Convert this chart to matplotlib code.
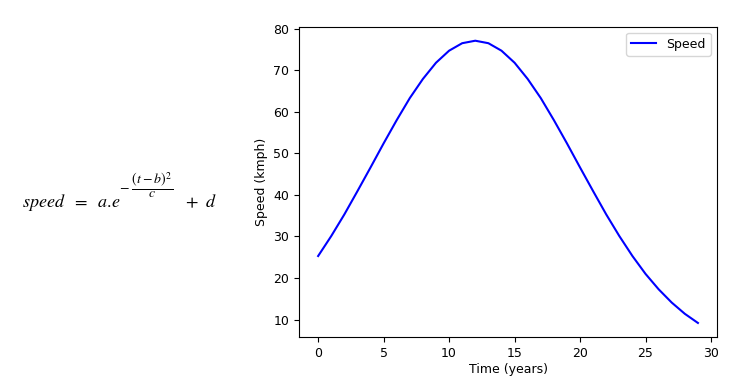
import matplotlib
matplotlib.use("Agg")
import matplotlib.pyplot as plt

# Data
time_years = list(range(30))
speed_kmph = [25.3, 30.1, 35.3, 40.9, 46.6, 52.4, 58.0, 63.3, 67.9, 71.8,
              74.7, 76.5, 77.1, 76.5, 74.7, 71.8, 67.9, 63.3, 58.0, 52.4,
              46.6, 40.9, 35.3, 30.1, 25.3, 21.0, 17.3, 14.1, 11.4, 9.2]

plt.rcParams['mathtext.fontset'] = 'stix'

fig = plt.figure(figsize=(7.46, 3.80), dpi=100)
ax = fig.add_axes([0.401, 0.113, 0.560, 0.817])

ax.plot(time_years, speed_kmph, color='blue', linewidth=1.5, label='Speed')
ax.set_xlabel('Time (years)', fontsize=9, labelpad=2)
ax.set_ylabel('Speed (kmph)', fontsize=9, labelpad=4)
ax.tick_params(labelsize=9)
ax.legend(loc='upper right', fontsize=9)

W, H = 746.0, 380.0
fig.text(22 / W, 1 - 207 / H, r'$speed\ \ =\ \ a.\!e$',
         fontsize=13, ha='left', va='baseline')
fig.text(119 / W, 1 - 185 / H, r'$-\ \dfrac{(t-b)^2}{c}$',
         fontsize=10, ha='left', va='center')
fig.text(185 / W, 1 - 207 / H, r'$+\ \ d$',
         fontsize=13, ha='left', va='baseline')

fig.savefig('out.png', dpi=100)
